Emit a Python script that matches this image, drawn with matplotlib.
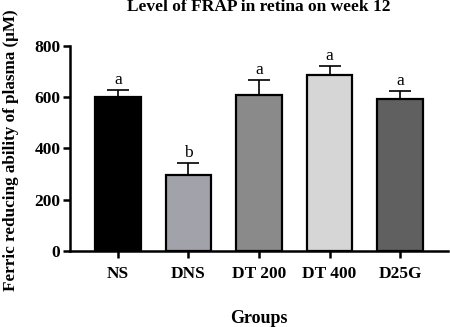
import matplotlib
matplotlib.use("Agg")
import matplotlib.pyplot as plt

groups = ["NS", "DNS", "DT 200", "DT 400", "D25G"]
values = [600, 295, 610, 688, 594]
errors = [28, 50, 58, 33, 30]
letters = ["a", "b", "a", "a", "a"]
colors = ["#000000", "#a2a2aa", "#8a8a8a", "#d6d6d6", "#606060"]
yticks = [0, 200, 400, 600, 800]

plt.rcParams['font.family'] = ['Liberation Serif', 'DejaVu Serif']
plt.rcParams['font.weight'] = 'bold'

fig = plt.figure(figsize=(4.5, 3.27), dpi=100)
ax = fig.add_axes([0.1556, 0.2324, 0.84, 0.627])

x = list(range(len(groups)))
ax.bar(x, values, width=0.65, color=colors, edgecolor="black", linewidth=1.6, zorder=2)
ax.errorbar(x, values, yerr=[[0]*len(errors), errors], fmt="none", ecolor="black",
            elinewidth=1.2, capsize=8, capthick=1.2, zorder=1)
for xi, v, e, l in zip(x, values, errors, letters):
    ax.text(xi, v + e + 8, l, ha="center", va="bottom", fontsize=12.5, fontweight="normal")

ax.set_xlim(-0.68, 4.68)
ax.set_ylim(0, 800)
ax.set_yticks(yticks)
ax.set_xticks(x)
ax.set_xticklabels(groups, fontsize=12.5, fontweight="bold")
ax.tick_params(axis="y", labelsize=12.5, width=1.8, length=5, pad=2)
ax.tick_params(axis="x", width=1.8, length=5, pad=6)
for lab in ax.get_yticklabels():
    lab.set_fontweight("bold")
for s in ["top", "right"]:
    ax.spines[s].set_visible(False)
for s in ["left", "bottom"]:
    ax.spines[s].set_linewidth(1.8)

ax.set_xlabel("Groups", fontsize=13, fontweight="bold", labelpad=20)
ax.set_ylabel("Ferric reducing ability of plasma (μM)", fontsize=12.3, fontweight="bold")
ax.yaxis.set_label_coords(-0.135, 0.49)
ax.set_title("Level of FRAP in retina on week 12", fontsize=12.5, fontweight="bold", pad=25)

fig.savefig("out.png", dpi=100)
